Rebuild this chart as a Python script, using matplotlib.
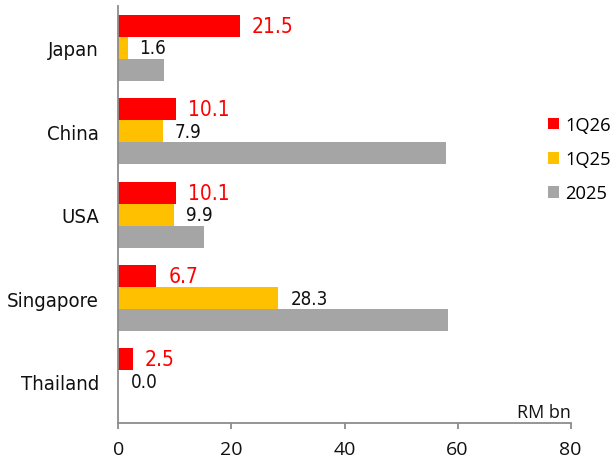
import numpy as np
import matplotlib
matplotlib.use("Agg")
import matplotlib.pyplot as plt
from matplotlib.patches import Patch

# Data (RM bn)
countries = ["Japan", "China", "USA", "Singapore", "Thailand"]
series_names = ["1Q26", "1Q25", "2025"]
v_1q26 = [21.5, 10.1, 10.1, 6.7, 2.5]
v_1q25 = [1.6, 7.9, 9.9, 28.3, 0.0]
v_2025 = [8.1, 58.0, 15.1, 58.4, 0.0]
x_ticks = [0, 20, 40, 60, 80]

colors = ["#FF0000", "#FFC000", "#A5A5A5"]
label_colors = ["#FF0000", "#111111", None]
label_sizes = [15, 13.5, None]

cat_font = dict(family="DejaVu Sans", stretch="condensed")
ui_font = "Open Sans"

fig = plt.figure(figsize=(6.13, 4.64), dpi=100)
ax = fig.add_axes([0.1933, 0.0862, 0.7374, 0.898])

y = np.arange(len(countries))
bar_h = 0.264
offsets = [-bar_h, 0.0, bar_h]
all_vals = [v_1q26, v_1q25, v_2025]

for vals, off, col, lcol, lsize in zip(all_vals, offsets, colors, label_colors, label_sizes):
    bars = ax.barh(y + off, vals, height=bar_h, color=col, edgecolor="none")
    if lcol is not None:
        for b, v in zip(bars, vals):
            ax.annotate(f"{v:.1f}", xy=(b.get_width(), b.get_y() + b.get_height() / 2),
                        xytext=(8.6, 0), textcoords="offset points",
                        ha="left", va="center", color=lcol, fontsize=lsize, **cat_font)

ax.set_xlim(0, 80)
ax.set_ylim(len(countries) - 0.5, -0.5)
ax.set_xticks(x_ticks)
ax.set_xticklabels([str(t) for t in x_ticks], fontsize=14, family=ui_font, color="#111111")
ax.set_yticks(y)
ax.set_yticklabels(countries, fontsize=14.6, color="#111111", **cat_font)

for s in ["top", "right"]:
    ax.spines[s].set_visible(False)
for s in ["left", "bottom"]:
    ax.spines[s].set_color("#8C8C8C")
    ax.spines[s].set_linewidth(1.3)

ax.tick_params(axis="y", length=0, pad=14)
ax.tick_params(axis="x", length=4.5, width=1.3, color="#8C8C8C", pad=8)

ax.text(1.0, 0.005, "RM bn", transform=ax.transAxes, ha="right", va="bottom",
        fontsize=13, family=ui_font, color="#111111")

handles = [Patch(facecolor=c, edgecolor="none") for c in colors]
fig.legend(handles, series_names, loc="upper left", bbox_to_anchor=(548 / 613, 1 - 117 / 464),
           frameon=False, prop={"family": ui_font, "size": 13.2},
           handlelength=0.62, handleheight=0.62, handletextpad=0.3,
           labelspacing=0.88, borderpad=0, borderaxespad=0)

fig.savefig("out.png", dpi=100)
